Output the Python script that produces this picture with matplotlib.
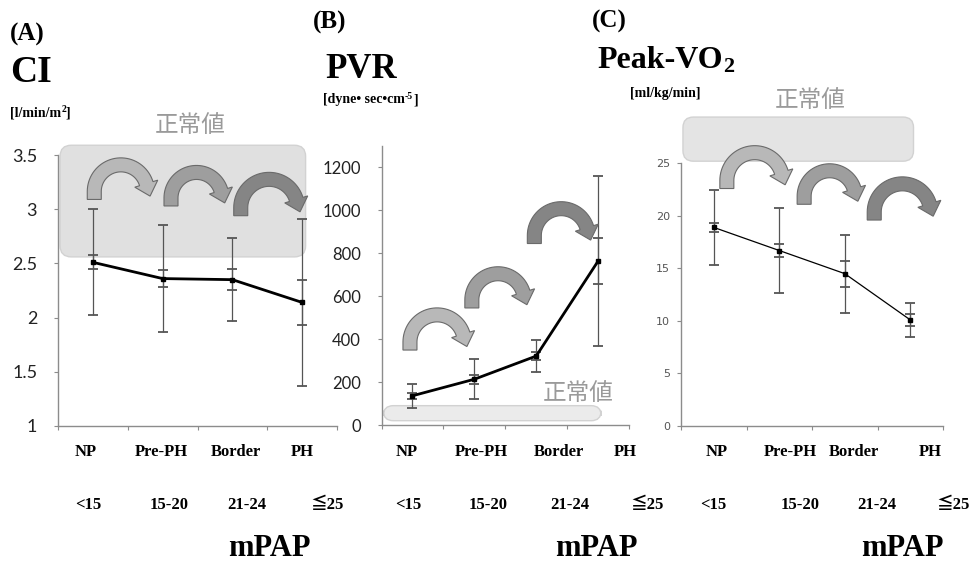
import matplotlib
matplotlib.use('Agg')
import matplotlib.pyplot as plt
from matplotlib.patches import FancyBboxPatch, Polygon
import numpy as np

plt.rcParams['font.family'] = ['Liberation Serif', 'Noto Sans CJK JP', 'DejaVu Sans']

W, H = 974, 565

# データ
groups = ['NP', 'Pre-PH', 'Border', 'PH']
mpap = ['<15', '15-20', '21-24', '≦25']

ci_mean = [2.51, 2.36, 2.35, 2.14]
ci_sd = [0.49, 0.49, 0.38, 0.77]
ci_se = [0.065, 0.075, 0.095, 0.21]
ci_normal = (2.56, 3.59)

pvr_mean = [136, 213, 321, 763]
pvr_sd = [56, 93, 75, 396]
pvr_se = [14, 22, 20, 108]
pvr_normal = (20, 90)

vo2_mean = [18.9, 16.7, 14.5, 10.1]
vo2_sd = [3.6, 4.0, 3.7, 1.65]
vo2_se = [0.42, 0.59, 1.23, 0.6]
vo2_normal = (25.2, 29.4)

# 矢印 (始点x, 先端x, 根元の高さ)
ci_arrows = [(1.02, 1.82, 3.09), (2.12, 2.89, 3.03), (3.12, 3.97, 2.94)]
pvr_arrows = [(0.96, 1.88, 349), (1.96, 2.85, 545), (2.97, 3.88, 845)]
vo2_arrows = [(1.20, 2.09, 22.6), (2.38, 3.20, 21.1), (3.45, 4.35, 19.6)]
arrow_colors = ['#b8b8b8', '#9e9e9e', '#858585']

fig = plt.figure(figsize=(W / 100, H / 100), dpi=100)


def px_box(l, r, b, t):
    return [l / W, 1 - b / H, (r - l) / W, (b - t) / H]


def ftext(x, y, s, **kw):
    return fig.text(x / W, 1 - y / H, s, **kw)


def curved_arrow(ax, xa, xb, ya, fc, t=7, hl=13, hw=12, stem=8, phi=17):
    # 半円形の太い矢印 (ピクセル単位で作ってデータ座標へ戻す)
    X0, Y0 = ax.transData.transform((xa, ya))
    Xt = ax.transData.transform((xb, ya))[0]
    p = np.radians(phi)
    r = (Xt - X0 - hl * np.sin(p)) / (1 + np.cos(p))
    cx, cy = X0 + r, Y0 + stem
    ang = np.linspace(np.pi, p, 40)
    outer = np.c_[cx + (r + t) * np.cos(ang), cy + (r + t) * np.sin(ang)]
    inner = np.c_[cx + (r - t) * np.cos(ang), cy + (r - t) * np.sin(ang)][::-1]
    b = np.array([cx + r * np.cos(p), cy + r * np.sin(p)])
    n = np.array([np.cos(p), np.sin(p)])
    d = np.array([np.sin(p), -np.cos(p)])
    head = np.array([b + n * hw, b + d * hl, b - n * hw])
    pts = np.vstack([[X0 - t, Y0], outer, head, inner, [X0 + t, Y0]])
    pts = ax.transData.inverted().transform(pts)
    ax.add_patch(Polygon(pts, closed=True, fc=fc, ec='#6a6a6a', lw=0.8,
                         clip_on=False, zorder=5))


def panel(ax, mean, sd, se, ylim, yticks, normal, box_fc, arrows, lw,
          tfont, tsize, tcolor, tpad, label_pos):
    x = np.arange(1, len(mean) + 1)
    ax.set_xlim(0.5, 4.5)
    ax.set_ylim(*ylim)
    for s in ['top', 'right']:
        ax.spines[s].set_visible(False)
    for s in ['left', 'bottom']:
        ax.spines[s].set_color('#8c8c8c')
        ax.spines[s].set_linewidth(1.0)
    ax.set_xticks(np.arange(0.5, 4.6, 1.0))
    ax.set_xticklabels([])
    ax.set_yticks(yticks)
    ax.set_yticklabels(['{:g}'.format(v) for v in yticks], fontfamily=tfont,
                       fontsize=tsize, color=tcolor)
    ax.tick_params(axis='both', direction='out', length=3, color='#8c8c8c')
    ax.tick_params(axis='y', pad=tpad)
    ax.patch.set_alpha(0)

    # 正常値の範囲
    p0 = ax.transData.transform((0, 0))
    p1 = ax.transData.transform((1, 1))
    asp = (p1[0] - p0[0]) / (p1[1] - p0[1])
    box = FancyBboxPatch((0.53, normal[0]), 3.52, normal[1] - normal[0],
                         boxstyle='round,pad=0,rounding_size=0.16',
                         mutation_aspect=asp, fc=box_fc, ec='#d2d2d2',
                         lw=1.0, clip_on=False, zorder=1)
    ax.add_patch(box)

    ax.errorbar(x, mean, yerr=sd, fmt='none', ecolor='#555555', elinewidth=0.9,
                capsize=3.5, capthick=1.3, zorder=3)
    ax.errorbar(x, mean, yerr=se, fmt='none', ecolor='#555555', elinewidth=0.9,
                capsize=3.5, capthick=1.3, zorder=3)
    ax.plot(x, mean, color='black', lw=lw, marker='s', ms=3.5, zorder=4)

    for (xa, xb, ya), fc in zip(arrows, arrow_colors):
        curved_arrow(ax, xa, xb, ya, fc)

    # 下のラベル
    gx, mx, mp = label_pos
    for g, xx in zip(groups, gx):
        ftext(xx, 452, g, fontsize=12, fontweight='bold', ha='center', va='center')
    for m, xx in zip(mpap, mx):
        ftext(xx, 505, m, fontsize=12, fontweight='bold', ha='center', va='center')
    ftext(mp, 548, 'mPAP', fontsize=22, fontweight='bold', ha='center', va='center')


axA = fig.add_axes(px_box(58, 337, 426, 155))
axB = fig.add_axes(px_box(381.5, 629, 425, 145.8))
axC = fig.add_axes(px_box(681, 943, 426, 163.3))

panel(axA, ci_mean, ci_sd, ci_se, (1, 3.5), [1, 1.5, 2, 2.5, 3, 3.5], ci_normal,
      '#e0e0e0', ci_arrows, 2.0, 'Lato', 13, '#222222', 12,
      ([86, 161, 236, 302], [88, 169, 247, 327], 269))
panel(axB, pvr_mean, pvr_sd, pvr_se, (0, 1300), [0, 200, 400, 600, 800, 1000, 1200],
      pvr_normal, '#ebebeb', pvr_arrows, 2.0, 'Lato', 12, '#222222', 12,
      ([407, 481, 559, 625], [408, 488, 570, 647], 596))
panel(axC, vo2_mean, vo2_sd, vo2_se, (0, 25), [0, 5, 10, 15, 20, 25], vo2_normal,
      '#e4e4e4', vo2_arrows, 0.9, 'DejaVu Sans', 8, '#555555', 5,
      ([717, 790, 854, 930], [713, 800, 877, 953], 902))

# 正常値ラベル
for xx, yy in [(190, 125), (578, 393), (810, 100)]:
    ftext(xx, yy, '正常値', fontsize=17, color='#9a9a9a', ha='center', va='center',
          fontfamily=['Noto Sans CJK JP'])

# タイトル
bold = dict(fontweight='bold', va='baseline')
ftext(10, 41, '(A)', fontsize=18, **bold)
ftext(313, 29, '(B)', fontsize=18, **bold)
ftext(592, 28, '(C)', fontsize=18, **bold)
ftext(10, 82, 'CI', fontsize=27, **bold)
ftext(325, 78, 'PVR', fontsize=25, **bold)

renderer = fig.canvas.get_renderer()


def rich(x, y, pieces):
    for s, size, dy in pieces:
        t = ftext(x, y - dy, s, fontsize=size, **bold)
        x = t.get_window_extent(renderer).x1


rich(597, 68, [('Peak-VO', 23, 0), ('2', 16, -4)])
rich(10, 116, [('[l/min/m', 10, 0), ('2', 7, 4), (']', 10, 0)])
rich(323, 103, [('[dyne• sec•cm', 10, 0), ('-5', 7, 4), (']', 10, 0)])
rich(630, 97, [('[ml/kg/min]', 10, 0)])

fig.savefig('out.png', dpi=100)
